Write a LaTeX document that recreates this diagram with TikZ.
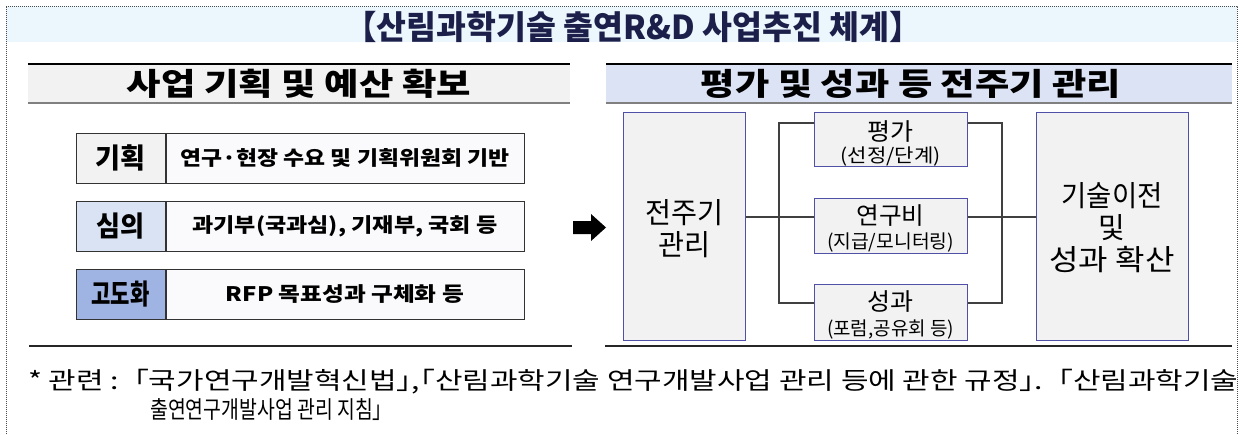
\documentclass[tikz,border=0pt]{standalone}
\usepackage{fontspec}
\usepackage{graphicx}
\setmainfont{Noto Sans CJK KR}
\newfontfamily\krp[RawFeature=+palt]{Noto Sans CJK KR}
\newcommand\fitw[2]{\resizebox{#1pt}{\height}{#2}}
\definecolor{bandc}{HTML}{EBF6FD}
\definecolor{titlec}{HTML}{1B1F4A}
\definecolor{hdrL}{HTML}{F2F2F2}
\definecolor{hdrR}{HTML}{DCE3F5}
\definecolor{labA}{HTML}{F2F2F2}
\definecolor{labB}{HTML}{DAE3F3}
\definecolor{labC}{HTML}{9FB4E2}
\definecolor{cellc}{HTML}{FAFAFC}
\definecolor{rboxd}{HTML}{5050A8}
\definecolor{connc}{HTML}{404040}
\begin{document}
\begin{tikzpicture}[x=1pt,y=-1pt,
  hdr/.style={minimum height=39pt, inner sep=0pt, font=\bfseries\fontsize{31}{33}\selectfont},
  labcell/.style={draw=black!80, line width=1pt, minimum width=89pt, minimum height=50pt, inner sep=0pt, font=\bfseries\fontsize{28}{30}\selectfont},
  txtcell/.style={draw=black!80, line width=1pt, fill=cellc, minimum width=358pt, minimum height=50pt, inner sep=0pt, font=\krp\bfseries\fontsize{20}{22}\selectfont},
  rbox/.style={draw=rboxd, line width=1pt, fill=hdrL, inner sep=0pt},
  big/.style={inner sep=0pt, font=\fontsize{29}{31}\selectfont},
  mid/.style={inner sep=0pt, font=\fontsize{24}{26}\selectfont},
  small/.style={inner sep=0pt, font=\krp\fontsize{19}{21}\selectfont},
  conn/.style={draw=connc, line width=1.3pt},
  rule/.style={draw=black!85, line width=1.6pt},
  note/.style={inner sep=0pt, anchor=west, font=\fontsize{24}{26}\selectfont}]
\useasboundingbox (0,0) rectangle (1244,434);
% outer frame and title band
\fill[bandc] (6,6) rectangle (1237,42);
\draw[black!70, line width=0.8pt, dash pattern=on 1pt off 1pt] (6,434) -- (6,6) -- (1237,6) -- (1237,434);
\node[inner sep=0pt, text=titlec, font=\bfseries\fontsize{33}{35}\selectfont] (title) at (633,27) {\fitw{577}{【산림과학기술 출연R\&D 사업추진 체계】}};
% headers
\node[hdr, fill=hdrL, minimum width=542pt] (lh) at (299,83.5) {\fitw{344}{사업 기획 및 예산 확보}};
\draw[black, line width=1.6pt] (lh.north west) -- (lh.north east);
\draw[black!50, line width=1.6pt] (lh.south west) -- (lh.south east);
\node[hdr, fill=hdrR, minimum width=626pt] (rh) at (919,83.5) {\phantom{x}};
\node[inner sep=0pt, font=\bfseries\fontsize{31}{33}\selectfont] (rht) at (911,84) {\fitw{420}{평가 및 성과 등 전주기 관리}};
\draw[black, line width=1.6pt] (rh.north west) -- (rh.north east);
\draw[black!50, line width=1.6pt] (rh.south west) -- (rh.south east);
% left rows
\node[labcell, fill=labA] (l1) at (120.5,158) {\fitw{50}{기획}};
\node[txtcell, anchor=west] (c1) at (l1.east) {\fitw{329}{연구·현장 수요 및 기획위원회 기반}};
\node[labcell, fill=labB] (l2) at (120.5,226) {\fitw{48}{심의}};
\node[txtcell, anchor=west] (c2) at (l2.east) {\fitw{305}{과기부(국과심), 기재부, 국회 등}};
\node[labcell, fill=labC] (l3) at (120.5,294) {\fitw{58}{고도화}};
\node[txtcell, anchor=west] (c3) at (l3.east) {\fitw{238}{RFP 목표성과 구체화 등}};
% arrow
\fill[black] (573,221) -- (591,221) -- (591,214) -- (606,227.5) -- (591,241) -- (591,234) -- (573,234) -- cycle;
% right panel boxes
\node[rbox, minimum width=122pt, minimum height=228pt] (jj) at (684,226) {};
\node[big] (jjt1) at (684,213) {\fitw{78}{전주기}};
\node[big] (jjt2) at (684,245) {\fitw{52}{관리}};
\node[rbox, minimum width=153pt, minimum height=54pt] (pg) at (890.5,139) {};
\node[mid] (pgt1) at (890.5,131) {\fitw{46}{평가}};
\node[small] (pgt2) at (890.5,157) {\fitw{100}{(선정/단계)}};
\node[rbox, minimum width=153pt, minimum height=55pt] (yg) at (890.5,225.5) {};
\node[mid] (ygt1) at (890.5,216) {\fitw{68}{연구비}};
\node[small] (ygt2) at (890.5,243) {\fitw{127}{(지급/모니터링)}};
\node[rbox, minimum width=153pt, minimum height=56pt] (sg) at (890.5,312) {};
\node[mid] (sgt1) at (890.5,302) {\fitw{46}{성과}};
\node[small] (sgt2) at (890.5,329) {\fitw{127}{(포럼,공유회 등)}};
\node[rbox, minimum width=152pt, minimum height=228pt] (gs) at (1112,226) {};
\node[big] (gst1) at (1112,196) {\fitw{101}{기술이전}};
\node[big] (gst2) at (1112,228) {및};
\node[big] (gst3) at (1112,260) {\fitw{125}{성과 확산}};
% connectors
\coordinate (mid) at (779,217);
\coordinate (topL) at (779,123);
\coordinate (botL) at (779,303);
\coordinate (topR) at (1002,123);
\coordinate (botR) at (1002,303);
\draw[conn] (jj.east |- mid) -- (yg.west |- mid);
\draw[conn] (pg.west |- topL) -- (topL) -- (botL) -- (sg.west |- botL);
\draw[conn] (pg.east |- topR) -- (topR) -- (botR) -- (sg.east |- botR);
\draw[conn] (yg.east |- mid) -- (gs.west |- mid);
% bottom rules
\coordinate (r1a) at (29,346);
\coordinate (r1b) at (572,346);
\coordinate (r2a) at (605,346);
\coordinate (r2b) at (1232,346);
\draw[rule] (r1a) -- (r1b);
\draw[rule] (r2a) -- (r2b);
% footnote
\node[note] (fn1) at (28,382) {\fitw{1210}{* 관련 :「국가연구개발혁신법{\krp 」,「}산림과학기술 연구개발사업 관리 등에 관한 규정{\krp 」.}「산림과학기술}};
\node[note] (fn2) at (150,410) {\fitw{242}{출연연구개발사업 관리 지침」}};
\end{tikzpicture}
\end{document}
